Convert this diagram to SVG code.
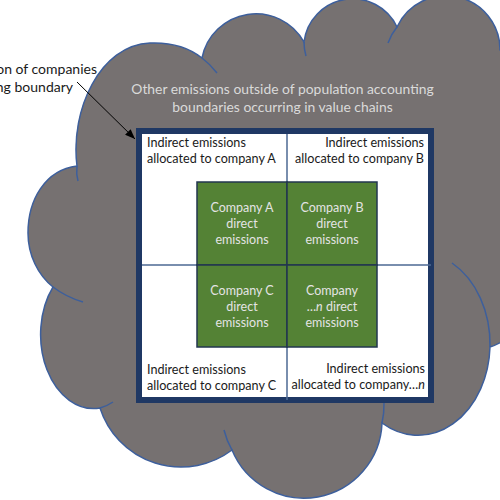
<svg xmlns="http://www.w3.org/2000/svg" width="500" height="500" viewBox="0 0 500 500">
<defs>
<style>
.t{font-family:Lato,"Liberation Sans",sans-serif}
.lbl{font-size:12.6px;fill:#1a1a1a}
.ann{font-size:14px;fill:#1a1a1a;text-anchor:end}
.cl{font-size:13.9px;fill:#dadada;text-anchor:middle}
.gt{font-size:12.5px;fill:#e4e4e4;text-anchor:middle}
.end{text-anchor:end}
.crease{fill:none;stroke:#3d5f9c;stroke-width:1.5}
.cell{fill:#548235;stroke:#22364f;stroke-width:1.5}
.grid{stroke:#4e6a94;stroke-width:1.5;fill:none}
</style>
<marker id="ah" markerWidth="10" markerHeight="8" refX="10" refY="4" orient="auto" markerUnits="userSpaceOnUse"><path d="M0 0 L10 4 L0 8 Z" fill="#000"/></marker>
</defs>
<rect width="500" height="500" fill="#fff"/>
<g id="cloud">
<path d="M53 287 C38 275 28 255 28 233 C28 200 45 170 77 166 C70 110 100 45 150 43 C175 42 192 50 202 58 A55 55 0 0 1 304 42 A49 49 0 0 1 397 27 A54 54 0 0 1 500 50 L540 60 L540 330 L512 335 Q500 344 490 347 A72 92 0 0 1 382 423 A78 78 0 0 1 232 450 A85 85 0 0 1 100 408 A53 74 0 0 1 53 287 Z" fill="#767171" stroke="#3d5f9c" stroke-width="1.5"/>
<path class="crease" d="M53 287 Q66 297 83 302 M77 166 Q76 174 78 181 M202 58 Q210 64 217 73 M304 42 A49 49 0 0 0 306 56 M397 27 A54 54 0 0 0 388 43 M490 347 A72 92 0 0 0 452 263 M382 423 A78 78 0 0 0 384 403 M232 450 A78 78 0 0 1 224 430 M100 408 A53 74 0 0 0 113 402"/>
<text class="t cl" x="282.5" y="94">Other emissions outside of population accounting</text>
<text class="t cl" x="282.5" y="112">boundaries occurring in value chains</text>
</g>
<g id="boundary">
<rect x="139" y="131" width="292" height="269" fill="#fff" stroke="#1f3864" stroke-width="6"/>
<path class="grid" d="M142 265 H431 M287 134 V400"/>
</g>
<g id="indirect-a">
<text class="t lbl" x="147" y="147">Indirect emissions</text>
<text class="t lbl" x="147" y="163">allocated to company A</text>
</g>
<g id="indirect-b">
<text class="t lbl end" x="424" y="147">Indirect emissions</text>
<text class="t lbl end" x="424" y="163">allocated to company B</text>
</g>
<g id="indirect-c">
<text class="t lbl" x="147" y="374">Indirect emissions</text>
<text class="t lbl" x="147" y="390">allocated to company C</text>
</g>
<g id="indirect-n">
<text class="t lbl end" x="425" y="373">Indirect emissions</text>
<text class="t lbl end" x="425" y="389">allocated to company…<tspan font-style="italic">n</tspan></text>
</g>
<g id="company-a">
<rect class="cell" x="197" y="182" width="90" height="83"/>
<text class="t gt" x="242" y="212">Company A</text>
<text class="t gt" x="242" y="228">direct</text>
<text class="t gt" x="242" y="244">emissions</text>
</g>
<g id="company-b">
<rect class="cell" x="287" y="182" width="90" height="83"/>
<text class="t gt" x="332" y="212">Company B</text>
<text class="t gt" x="332" y="228">direct</text>
<text class="t gt" x="332" y="244">emissions</text>
</g>
<g id="company-c">
<rect class="cell" x="197" y="265" width="90" height="82"/>
<text class="t gt" x="242" y="295">Company C</text>
<text class="t gt" x="242" y="311">direct</text>
<text class="t gt" x="242" y="327">emissions</text>
</g>
<g id="company-n">
<rect class="cell" x="287" y="265" width="90" height="82"/>
<text class="t gt" x="332" y="295">Company</text>
<text class="t gt" x="332" y="311">…<tspan font-style="italic">n</tspan> direct</text>
<text class="t gt" x="332" y="327">emissions</text>
</g>
<g id="population-label">
<text class="t ann" x="97" y="74">on of companies</text>
<text class="t ann" x="73" y="92">ng boundary</text>
</g>
<g id="connectors">
<line x1="77" y1="82" x2="135" y2="139" stroke="#000" stroke-width="1" marker-end="url(#ah)"/>
</g>
</svg>
